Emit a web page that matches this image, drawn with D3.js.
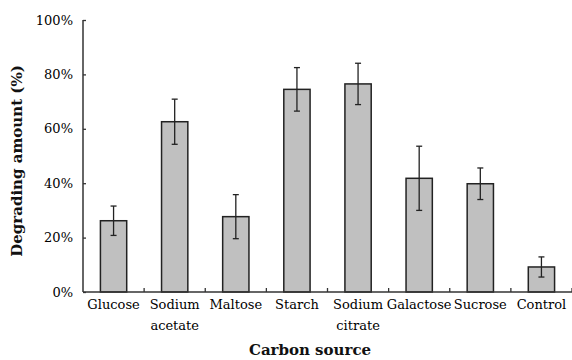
<!DOCTYPE html>
<html><head><meta charset="utf-8">
<script src="https://cdn.jsdelivr.net/npm/d3@7"></script>
<style>body{margin:0;background:#fff}svg{display:block}</style>
</head><body><svg id="c" width="572" height="360"></svg>
<script>
const categories = [["Glucose"],["Sodium","acetate"],["Maltose"],["Starch"],["Sodium","citrate"],["Galactose"],["Sucrose"],["Control"]];
const values = [26.2, 62.6, 27.7, 74.5, 76.5, 41.8, 39.8, 9.2];
const errors = [5.4, 8.3, 8.1, 8.0, 7.6, 11.8, 5.8, 3.7];
const yTicks = [0, 20, 40, 60, 80, 100];

const svg = d3.select("#c");
const font = "'DejaVu Serif', 'Liberation Serif', serif";
const m = {l:83, r:0, t:20, b:68};
const W = 572, H = 360;
const x = d3.scaleBand().domain(d3.range(categories.length)).range([m.l, W - m.r]).paddingInner(0.57).paddingOuter(0.285);
const xOuter = d3.scaleBand().domain(d3.range(categories.length)).range([m.l, W - m.r]);
const y = d3.scaleLinear().domain([0, 100]).range([H - m.b, m.t]);

// bars
svg.append("g").selectAll("rect").data(values).join("rect")
  .attr("x", (d,i) => x(i)).attr("width", x.bandwidth())
  .attr("y", d => y(d)).attr("height", d => y(0) - y(d))
  .attr("fill", "#c0c0c0").attr("stroke", "#222").attr("stroke-width", 1.5);

// error bars
const eg = svg.append("g").attr("stroke", "#222").attr("stroke-width", 1.3);
values.forEach((v,i) => {
  const cx = x(i) + x.bandwidth()/2;
  eg.append("line").attr("x1", cx).attr("x2", cx).attr("y1", y(v+errors[i])).attr("y2", y(v-errors[i]));
  eg.append("line").attr("x1", cx-3).attr("x2", cx+3).attr("y1", y(v+errors[i])).attr("y2", y(v+errors[i]));
  eg.append("line").attr("x1", cx-3).attr("x2", cx+3).attr("y1", y(v-errors[i])).attr("y2", y(v-errors[i]));
});

// y axis
const ya = svg.append("g").attr("transform", `translate(${m.l},0)`)
  .call(d3.axisLeft(y).tickValues(yTicks).tickSize(-3).tickPadding(10).tickFormat(d => d + "%"));
ya.select(".domain").attr("stroke", "#333").attr("stroke-width", 1.5).attr("d", `M0,${y(100)}V${y(0)}`);
ya.selectAll(".tick line").attr("stroke", "#333").attr("stroke-width", 1.3);
ya.selectAll("text").attr("font-family", font).attr("font-size", 13).attr("fill", "#000");

// x axis
const xg = svg.append("g").attr("transform", `translate(0,${y(0)})`);
xg.append("line").attr("x1", m.l).attr("x2", W - m.r).attr("stroke", "#333").attr("stroke-width", 1.5);
xg.selectAll(".xt").data(d3.range(1, categories.length + 1)).join("line")
  .attr("x1", i => xOuter.step()*i + m.l).attr("x2", i => xOuter.step()*i + m.l)
  .attr("y1", 0).attr("y2", -4).attr("stroke", "#333").attr("stroke-width", 1.3);
categories.forEach((lines,i) => {
  const t = xg.append("text").attr("x", x(i) + x.bandwidth()/2).attr("y", 17)
    .attr("text-anchor", "middle").attr("font-family", font).attr("font-size", 13).attr("fill", "#000");
  lines.forEach((s,j) => t.append("tspan").attr("x", x(i) + x.bandwidth()/2).attr("dy", j === 0 ? 0 : 21).text(s));
});

// titles
svg.append("text").attr("x", 310).attr("y", 355).attr("text-anchor", "middle")
  .attr("font-family", font).attr("font-size", 15).attr("font-weight", "bold").attr("fill", "#111").text("Carbon source");
svg.append("text").attr("transform", "translate(22,161) rotate(-90)").attr("text-anchor", "middle")
  .attr("font-family", font).attr("font-size", 15).attr("font-weight", "bold").attr("fill", "#111").text("Degrading amount (%)");
</script></body></html>
